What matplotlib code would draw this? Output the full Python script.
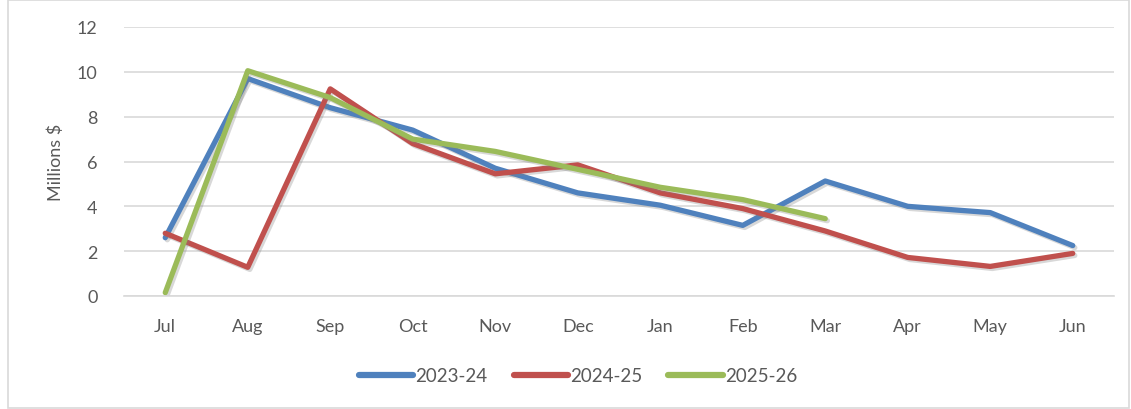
import matplotlib
matplotlib.use("Agg")
import matplotlib.pyplot as plt
import matplotlib.patheffects as pe
from matplotlib.patches import Rectangle

months = ["Jul", "Aug", "Sep", "Oct", "Nov", "Dec", "Jan", "Feb", "Mar", "Apr", "May", "Jun"]
s2023_24 = [2.6, 9.7, 8.4, 7.4, 5.7, 4.6, 4.05, 3.15, 5.13, 4.0, 3.72, 2.25]
s2024_25 = [2.8, 1.28, 9.24, 6.8, 5.45, 5.85, 4.6, 3.9, 2.9, 1.72, 1.32, 1.9]
s2025_26 = [0.15, 10.05, 8.85, 7.0, 6.45, 5.65, 4.85, 4.3, 3.45]
series = [("2023-24", s2023_24, "#4F81BD"),
          ("2024-25", s2024_25, "#C0504D"),
          ("2025-26", s2025_26, "#9BBB59")]
yticks = [0, 2, 4, 6, 8, 10, 12]

plt.rcParams['font.family'] = ['Lato', 'DejaVu Sans']
W, H = 1131, 410
fig = plt.figure(figsize=(W/100, H/100), dpi=100)
fig.patches.append(Rectangle((8/W, 1/H), (W-10)/W, (H-2)/H, transform=fig.transFigure,
                             fill=False, edgecolor="#D9D9D9", linewidth=1.2))
ax = fig.add_axes([124/W, 1-297/H, (1114-124)/W, (297-28)/H])
x = list(range(len(months)))
shadow = [pe.SimpleLineShadow(offset=(1.5, -1.5), shadow_color="gray", alpha=0.3), pe.Normal()]
for name, vals, col in series:
    ax.plot(x[:len(vals)], vals, color=col, linewidth=3.8, label=name,
            solid_capstyle="round", solid_joinstyle="round", path_effects=shadow)
ax.set_xlim(-0.5, len(months)-0.5)
ax.set_ylim(0, 12)
ax.set_yticks(yticks)
ax.set_xticks(x)
ax.set_xticklabels(months)
ax.grid(axis="y", color="#D9D9D9", linewidth=1.2)
ax.set_axisbelow(True)
for s in ["top", "right", "left"]:
    ax.spines[s].set_visible(False)
ax.spines["bottom"].set_color("#D9D9D9")
ax.spines["bottom"].set_linewidth(1.2)
ax.tick_params(axis="both", length=0, labelsize=13, colors="#595959")
ax.tick_params(axis="x", pad=16)
ax.tick_params(axis="y", pad=19)
ax.set_ylabel("Millions $", fontsize=13, color="#595959", labelpad=9)
leg = fig.legend(loc="center", bbox_to_anchor=(578/W, 1-377/H), ncol=3, frameon=False,
                 fontsize=13.5, handlelength=2.9, handletextpad=0.1, columnspacing=1.4)
for t in leg.get_texts():
    t.set_color("#595959")
for l in leg.get_lines():
    l.set_linewidth(4.5)
    l.set_path_effects([])
fig.savefig("out.png", dpi=100)
